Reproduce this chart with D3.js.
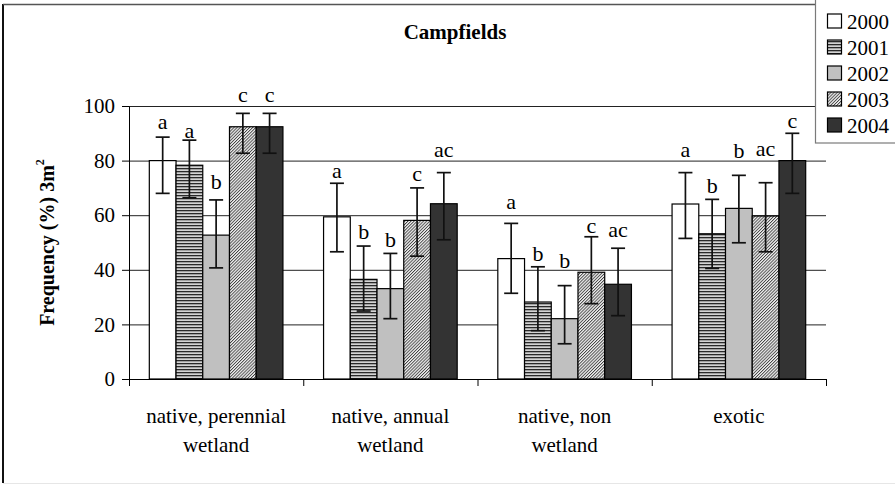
<!DOCTYPE html>
<html>
<head>
<meta charset="utf-8">
<script src="https://cdn.jsdelivr.net/npm/d3@7"></script>
<style>
  body { margin: 0; background: #fff; }
</style>
</head>
<body>
<div id="chart"></div>
<script>
// Data
const CATEGORIES = [["native, perennial", "wetland"], ["native, annual", "wetland"],
                    ["native, non", "wetland"], ["exotic"]];
const YEARS = ["2000", "2001", "2002", "2003", "2004"];
const MEANS = [[80, 78.3, 52.7, 92.4, 92.4],
               [59.4, 36.5, 33.1, 58.1, 64.2],
               [44.1, 28.2, 22.1, 39.1, 34.7],
               [64.1, 53.2, 62.5, 59.7, 80]];
const ERR_HIGH = [[88.6, 87.5, 65.6, 97.3, 97.3],
                  [71.7, 48.7, 46, 70, 75.6],
                  [57, 41.1, 34.2, 52.1, 47.9],
                  [75.6, 65.8, 74.6, 71.9, 90]];
const ERR_LOW = [[68, 66.4, 40.7, 82.7, 82.7],
                 [46.6, 24.9, 22.1, 45, 51],
                 [31.4, 17.7, 12.9, 27.6, 23.2],
                 [51.5, 40.5, 49.9, 46.6, 68]];
const LETTERS = [["a", "a", "b", "c", "c"],
                 ["a", "b", "b", "c", "ac"],
                 ["a", "b", "b", "c", "ac"],
                 ["a", "b", "b", "ac", "c"]];
// height (in axis units) of each letter's baseline
const LETTER_AT = [[91.5, 88.1, 69.6, 101.4, 101.4],
                   [73.5, 51.3, 48.2, 72.6, 81.5],
                   [62.2, 43.3, 40.5, 53.4, 52.1],
                   [81.3, 68.1, 81, 81.7, 91.9]];
const Y_TICKS = [0, 20, 40, 60, 80, 100];

// Constants for layout
const FRAME_WIDTH = 895;
const FRAME_HEIGHT = 485;
const PLOT = {left: 129, right: 826, top: 106, bottom: 379};
const SERIF = "'Liberation Serif', 'Times New Roman', serif";

const FRAME = d3.select("#chart")
                .append("svg")
                  .attr("width", FRAME_WIDTH)
                  .attr("height", FRAME_HEIGHT)
                  .attr("font-family", SERIF);

// patterns for 2001 and 2003
const defs = FRAME.append("defs");
const stripes = defs.append("pattern")
                    .attr("id", "stripes")
                    .attr("patternUnits", "userSpaceOnUse")
                    .attr("width", 6).attr("height", 3);
stripes.append("rect").attr("width", 6).attr("height", 3).attr("fill", "#d4d4d4");
stripes.append("rect").attr("width", 6).attr("height", 1.3).attr("fill", "#2a2a2a");

const hatch = defs.append("pattern")
                  .attr("id", "hatch")
                  .attr("patternUnits", "userSpaceOnUse")
                  .attr("width", 2.2).attr("height", 2.2)
                  .attr("patternTransform", "rotate(45)");
hatch.append("rect").attr("width", 2.2).attr("height", 2.2).attr("fill", "#f2f2f2");
hatch.append("rect").attr("width", 0.9).attr("height", 2.2).attr("fill", "#404040");

const FILLS = d3.scaleOrdinal()
                .domain(YEARS)
                .range(["#ffffff", "url(#stripes)", "#c0c0c0", "url(#hatch)", "#333333"]);

// chart area border
FRAME.append("line").attr("x1", 3).attr("x2", 3).attr("y1", 4).attr("y2", 483)
     .attr("stroke", "#111").attr("stroke-width", 2);
FRAME.append("line").attr("x1", 3).attr("x2", 895).attr("y1", 4.5).attr("y2", 4.5)
     .attr("stroke", "#555").attr("stroke-width", 1.3);
FRAME.append("line").attr("x1", 3).attr("x2", 895).attr("y1", 483.5).attr("y2", 483.5)
     .attr("stroke", "#e6e6e6").attr("stroke-width", 1);

// scales
const Y_SCALE = d3.scaleLinear().domain([0, 100]).range([PLOT.bottom, PLOT.top]);
const X_SCALE = d3.scaleBand()
                  .domain(d3.range(CATEGORIES.length))
                  .range([PLOT.left, PLOT.right]);
const X_INNER = d3.scaleBand()
                  .domain(YEARS)
                  .range([0, X_SCALE.bandwidth()])
                  .paddingInner(0)
                  .paddingOuter(0.76);
const X_TICKS = d3.scaleLinear().domain([0, CATEGORIES.length]).range([PLOT.left, PLOT.right]);

// gridlines
FRAME.append("g")
     .attr("transform", "translate(" + PLOT.left + ",0)")
     .call(d3.axisLeft(Y_SCALE).tickValues(Y_TICKS.slice(1))
             .tickSize(-(PLOT.right - PLOT.left)).tickFormat(""))
     .call(g => g.select(".domain").remove())
     .call(g => g.selectAll("line").attr("stroke", "#222").attr("stroke-width", 1));

// y axis
FRAME.append("g")
     .attr("transform", "translate(" + PLOT.left + ",0)")
     .call(d3.axisLeft(Y_SCALE).tickValues(Y_TICKS).tickSize(7).tickSizeOuter(0).tickPadding(7))
     .attr("font-size", "21px")
     .attr("font-family", SERIF)
     .call(g => g.selectAll("text").attr("fill", "#000"));

// x axis (tick marks between categories)
FRAME.append("g")
     .attr("transform", "translate(0," + PLOT.bottom + ")")
     .call(d3.axisBottom(X_TICKS).ticks(CATEGORIES.length).tickSize(7)
             .tickSizeOuter(0).tickFormat(""));

// category labels
const catLabels = FRAME.selectAll(".cat")
     .data(CATEGORIES)
     .enter()
     .append("text")
       .attr("class", "cat")
       .attr("x", (d, i) => X_SCALE(i) + X_SCALE.bandwidth() / 2)
       .attr("y", 423)
       .attr("text-anchor", "middle")
       .attr("font-family", SERIF)
       .attr("font-size", "21px");
catLabels.selectAll("tspan")
     .data(d => d)
     .enter()
     .append("tspan")
       .attr("x", function () { return d3.select(this.parentNode).attr("x"); })
       .attr("dy", (d, i) => i === 0 ? 0 : 29)
       .text(d => d);

// flatten values for bars
const flat = [];
MEANS.forEach((row, c) => row.forEach((v, k) => {
  flat.push({cat: c, year: YEARS[k], value: v, hi: ERR_HIGH[c][k], lo: ERR_LOW[c][k],
             letter: LETTERS[c][k], at: LETTER_AT[c][k]});
}));
const barX = d => X_SCALE(d.cat) + X_INNER(d.year);
const barMid = d => barX(d) + X_INNER.bandwidth() / 2;

// bars
FRAME.selectAll(".bar")
     .data(flat)
     .enter()
     .append("rect")
       .attr("class", "bar")
       .attr("x", barX)
       .attr("width", X_INNER.bandwidth())
       .attr("y", d => Y_SCALE(d.value))
       .attr("height", d => PLOT.bottom - Y_SCALE(d.value))
       .attr("fill", d => FILLS(d.year))
       .attr("stroke", "#000")
       .attr("stroke-width", 1.2);

// error bars
const CAP = 7;
const err = FRAME.selectAll(".err").data(flat).enter().append("g").attr("class", "err")
                 .attr("stroke", "#111").attr("stroke-width", 1.7);
err.append("line").attr("x1", barMid).attr("x2", barMid)
   .attr("y1", d => Y_SCALE(d.hi)).attr("y2", d => Y_SCALE(d.lo));
err.append("line").attr("x1", d => barMid(d) - CAP).attr("x2", d => barMid(d) + CAP)
   .attr("y1", d => Y_SCALE(d.hi)).attr("y2", d => Y_SCALE(d.hi));
err.append("line").attr("x1", d => barMid(d) - CAP).attr("x2", d => barMid(d) + CAP)
   .attr("y1", d => Y_SCALE(d.lo)).attr("y2", d => Y_SCALE(d.lo));

// significance letters
FRAME.selectAll(".letter")
     .data(flat)
     .enter()
     .append("text")
       .attr("class", "letter")
       .attr("x", barMid)
       .attr("y", d => Y_SCALE(d.at))
       .attr("text-anchor", "middle")
       .attr("font-family", SERIF)
       .attr("font-size", "22px")
       .text(d => d.letter);

// title
FRAME.append("text")
     .attr("x", 455)
     .attr("y", 39)
     .attr("text-anchor", "middle")
     .attr("font-family", SERIF)
     .attr("font-size", "21px")
     .attr("font-weight", "bold")
     .text("Campfields");

// y axis title
const yTitle = FRAME.append("text")
     .attr("transform", "translate(54," + ((PLOT.top + PLOT.bottom) / 2) + ") rotate(-90)")
     .attr("text-anchor", "middle")
     .attr("font-family", SERIF)
     .attr("font-size", "20px")
     .attr("font-weight", "bold");
yTitle.append("tspan").text("Frequency (%) 3m");
yTitle.append("tspan").attr("font-size", "12px").attr("dy", -10).text("2");

// legend
const LEGEND = FRAME.append("g");
LEGEND.append("rect")
      .attr("x", 815.5).attr("y", -2).attr("width", 90).attr("height", 145)
      .attr("fill", "#fff").attr("stroke", "#7a7a7a").attr("stroke-width", 1.2);
const items = LEGEND.selectAll(".item")
      .data(YEARS)
      .enter()
      .append("g")
        .attr("class", "item")
        .attr("transform", (d, i) => "translate(827," + (21 + i * 26) + ")");
items.append("rect")
     .attr("x", 0.5).attr("y", -7).attr("width", 14).attr("height", 14)
     .attr("fill", d => FILLS(d)).attr("stroke", "#000").attr("stroke-width", 1.2);
items.append("text")
     .attr("x", 20).attr("y", 7.5)
     .attr("font-family", SERIF)
     .attr("font-size", "21px")
     .text(d => d);
</script>
</body>
</html>
